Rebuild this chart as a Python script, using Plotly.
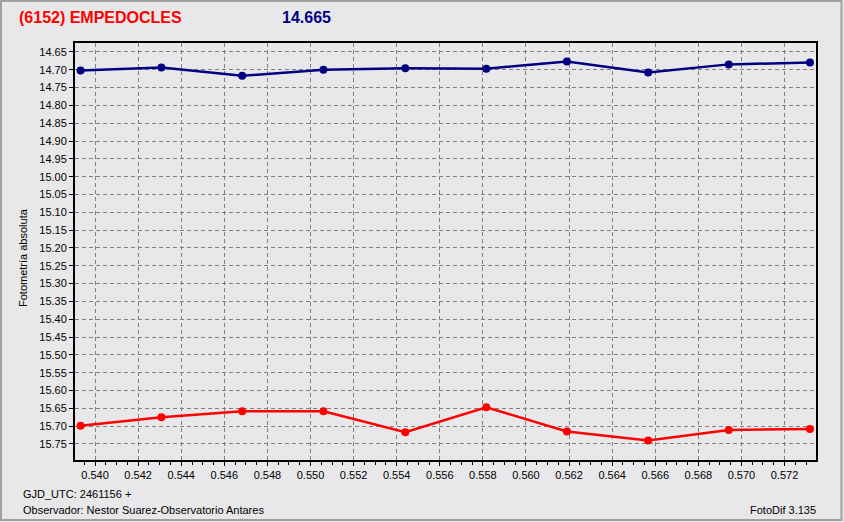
import plotly.graph_objects as go

# Data
gjd = [0.53933, 0.54308, 0.54683, 0.55060, 0.55440, 0.55816, 0.56190, 0.56567, 0.56941, 0.57318]
mag_blue = [14.702, 14.694, 14.717, 14.700, 14.696, 14.697, 14.677, 14.708, 14.685, 14.680]
mag_red = [15.699, 15.675, 15.658, 15.658, 15.717, 15.647, 15.715, 15.740, 15.711, 15.708]

title_name = "(6152) EMPEDOCLES"
title_value = "14.665"
y_title = "Fotometría absoluta"
footer_gjd = "GJD_UTC: 2461156 +"
footer_obs = "Observador: Nestor Suarez-Observatorio Antares"
footer_ver = "FotoDif 3.135"

W, H = 844, 522
ML, MR, MT, MB = 75, 28, 43, 62
PW, PH = W - ML - MR, H - MT - MB


def px(x):
    return (x - ML) / PW


def py(y):
    return (H - MB - y) / PH


BG = "#E8E8EA"
FONT = "Liberation Sans"

fig = go.Figure()
fig.add_trace(go.Scatter(x=gjd, y=mag_blue, mode="lines+markers",
                         line=dict(color="#000080", width=2.5),
                         marker=dict(color="#000080", size=8), showlegend=False))
fig.add_trace(go.Scatter(x=gjd, y=mag_red, mode="lines+markers",
                         line=dict(color="#FF0000", width=2.5),
                         marker=dict(color="#FF0000", size=8), showlegend=False))

fig.update_layout(
    width=W, height=H,
    margin=dict(l=ML, r=MR, t=MT, b=MB),
    paper_bgcolor=BG, plot_bgcolor=BG,
    font=dict(family=FONT, size=11, color="#000000"),
    xaxis=dict(range=[0.53907, 0.57346], dtick=0.002, tick0=0.540, tickformat=".3f",
               showgrid=True, gridcolor="#808080", griddash="4px,3px", gridwidth=1,
               showline=True, linecolor="#000000", linewidth=2, mirror=True,
               ticks="outside", ticklen=4, tickcolor="#000000", zeroline=False,
               minor=dict(dtick=0.0005, ticks="outside", ticklen=3, tickcolor="#000000", showgrid=False),
               tickfont=dict(family=FONT, size=11, color="#000000")),
    yaxis=dict(range=[15.795, 14.625], dtick=0.05, tick0=14.65, tickformat=".2f",
               showgrid=True, gridcolor="#808080", griddash="4px,3px", gridwidth=1,
               showline=True, linecolor="#000000", linewidth=2, mirror=True,
               ticks="outside", ticklen=4, tickcolor="#000000", zeroline=False,
               tickfont=dict(family=FONT, size=11, color="#000000")),
    annotations=[
        dict(text=title_name, x=px(17), y=py(18), xref="paper", yref="paper",
             xanchor="left", yanchor="middle", showarrow=False,
             font=dict(family=FONT, size=16, color="#FF0000", weight="bold")),
        dict(text=title_value, x=px(280), y=py(18), xref="paper", yref="paper",
             xanchor="left", yanchor="middle", showarrow=False,
             font=dict(family=FONT, size=16, color="#000080", weight="bold")),
        dict(text=y_title, x=px(23), y=py(258), xref="paper", yref="paper",
             xanchor="center", yanchor="middle", showarrow=False, textangle=-90,
             font=dict(family=FONT, size=11, color="#000000")),
        dict(text=footer_gjd, x=px(21), y=py(494), xref="paper", yref="paper",
             xanchor="left", yanchor="middle", showarrow=False,
             font=dict(family=FONT, size=11, color="#000000")),
        dict(text=footer_obs, x=px(21), y=py(510), xref="paper", yref="paper",
             xanchor="left", yanchor="middle", showarrow=False,
             font=dict(family=FONT, size=11, color="#000000")),
        dict(text=footer_ver, x=px(818), y=py(510), xref="paper", yref="paper",
             xanchor="right", yanchor="middle", showarrow=False,
             font=dict(family=FONT, size=11, color="#000000")),
    ],
    shapes=[
        dict(type="rect", xref="paper", yref="paper",
             x0=px(1), x1=px(841.5), y0=py(520), y1=py(1),
             line=dict(color="#A0A0A0", width=2), layer="below"),
    ],
)

fig.write_html("out.html", config={"displayModeBar": False},
               post_script="document.body.style.margin='0';document.body.style.overflow='hidden';")
